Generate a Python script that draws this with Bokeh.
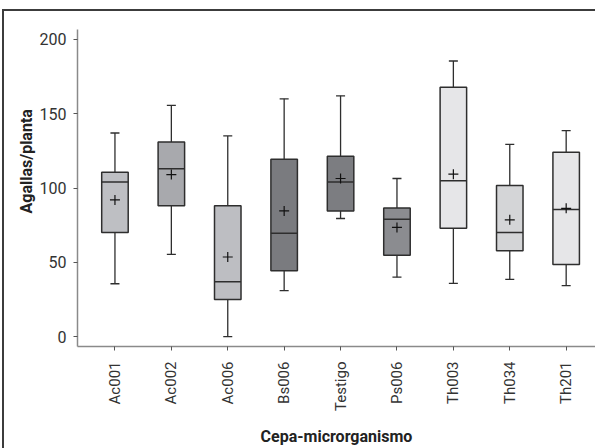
import math
from bokeh.plotting import figure
from bokeh.models import Range1d, FixedTicker, Title, ColumnDataSource
from bokeh.embed import file_html
from bokeh.resources import INLINE

cepas = ["Ac001", "Ac002", "Ac006", "Bs006", "Testigo", "Ps006", "Th003", "Th034", "Th201"]
whisker_low = [35.6, 55.4, 0.0, 31.0, 79.5, 40.0, 35.8, 38.6, 34.4]
q1 = [70.0, 88.0, 25.0, 44.4, 84.6, 54.7, 73.0, 57.8, 48.5]
mediana = [104.0, 113.0, 36.9, 69.5, 104.0, 79.0, 104.8, 70.0, 85.6]
q3 = [110.6, 131.0, 88.0, 119.4, 121.4, 86.5, 167.8, 101.6, 124.0]
whisker_high = [137.0, 155.6, 135.0, 160.0, 162.0, 106.4, 185.4, 129.4, 138.6]
media = [92.0, 109.0, 53.6, 84.6, 106.4, 73.5, 109.3, 78.6, 86.3]
colores = ["#bebfc3", "#a8a9ad", "#bdbec2", "#7a7b7f", "#7c7d81", "#8b8c90", "#e6e6e8", "#d4d5d7", "#e6e6e8"]
y_ticks = [0, 50, 100, 150, 200]

FONT = "Roboto"
x = [i + 0.5 for i in range(len(cepas))]
bw = 0.47
cap = 0.16

src = ColumnDataSource(dict(x=x, lo=whisker_low, q1=q1, med=mediana, q3=q3, hi=whisker_high,
                            mean=media, color=colores,
                            cl=[v - cap / 2 for v in x], cr=[v + cap / 2 for v in x],
                            bl=[v - bw / 2 for v in x], br=[v + bw / 2 for v in x]))

p = figure(width=582, height=429, output_backend="svg", toolbar_location=None,
           x_range=Range1d(-0.164, 9.02), y_range=Range1d(-6.6, 206.6),
           min_border_left=56, min_border_right=0, min_border_top=10, min_border_bottom=97)
# outer frame line drawn outside the canvas (left and top)
bc = "#3c3c3c"
p.styles = {
    "margin-left": "13px", "margin-top": "19px",
    "box-shadow": (f"-9px 0 0 0 white, 0 -8px 0 0 white, -9px -8px 0 0 white, "
                   f"-11px 0 0 0 {bc}, 0 -10px 0 0 {bc}, -11px -10px 0 0 {bc}"),
}
p.outline_line_color = None
p.grid.visible = False
p.background_fill_color = "white"
p.border_fill_color = "white"

lc = "#2e2e2e"
# whiskers
p.segment(x0="x", y0="q3", x1="x", y1="hi", source=src, line_color=lc, line_width=1.3)
p.segment(x0="x", y0="lo", x1="x", y1="q1", source=src, line_color=lc, line_width=1.3)
p.segment(x0="cl", y0="hi", x1="cr", y1="hi", source=src, line_color=lc, line_width=1.3)
p.segment(x0="cl", y0="lo", x1="cr", y1="lo", source=src, line_color=lc, line_width=1.3)
# boxes
p.quad(left="bl", right="br", bottom="q1", top="q3", source=src, fill_color="color",
       line_color=lc, line_width=1.5)
p.segment(x0="bl", y0="med", x1="br", y1="med", source=src, line_color=lc, line_width=1.5)
p.scatter(x="x", y="mean", source=src, marker="cross", size=10, line_color="#111111", line_width=1.2)

# axes
for ax in (p.xaxis[0], p.yaxis[0]):
    ax.axis_line_color = "#8a8a8a"
    ax.axis_line_width = 1.5
    ax.major_tick_line_color = "#555555"
    ax.major_tick_in = 0
    ax.major_tick_out = 4
    ax.minor_tick_line_color = None
    ax.major_label_text_font = FONT
    ax.major_label_text_color = "#333333"

p.yaxis.major_label_text_font_size = "16px"
p.xaxis.major_label_text_font_size = "15px"
p.yaxis.ticker = FixedTicker(ticks=y_ticks)
p.yaxis.major_label_standoff = 7
p.xaxis.ticker = FixedTicker(ticks=x)
p.xaxis.major_label_overrides = {v: c for v, c in zip(x, cepas)}
p.xaxis.major_label_orientation = math.pi / 2
p.xaxis.major_label_standoff = 11

p.xaxis.axis_label = "Cepa-microrganismo"
p.xaxis.axis_label_text_font = FONT
p.xaxis.axis_label_text_font_style = "bold"
p.xaxis.axis_label_text_font_size = "16px"
p.xaxis.axis_label_text_color = "#222222"
p.xaxis.axis_label_standoff = 13

p.add_layout(Title(text="Agallas/planta", align="left", offset=133, standoff=2,
                   text_font=FONT, text_font_style="bold", text_font_size="16px",
                   text_color="#222222"), "left")

open("out.html", "w").write(file_html(p, INLINE))
